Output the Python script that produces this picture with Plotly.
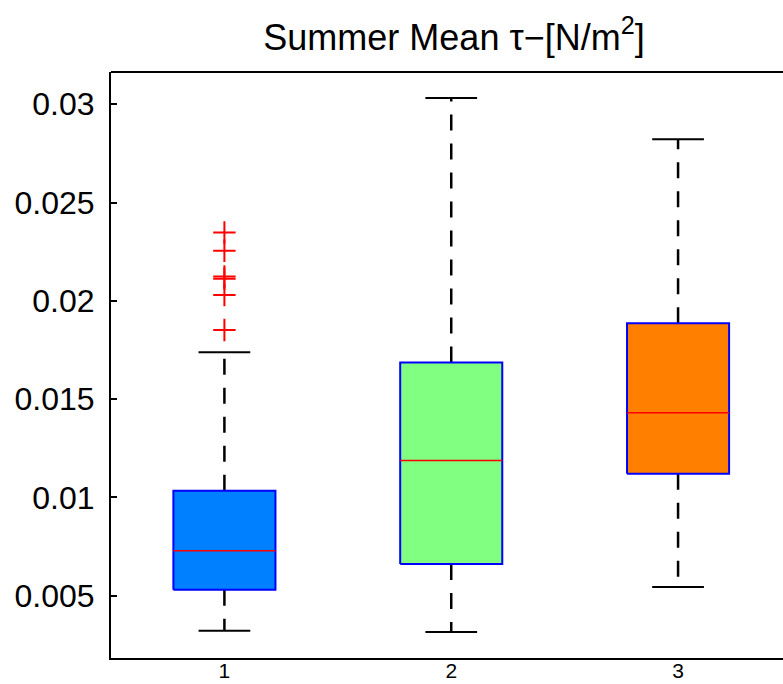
import plotly.graph_objects as go

# ---- data ----
groups = [1, 2, 3]
tick_labels = ["1", "2", "3"]
q1 = [0.00531, 0.00661, 0.01120]
median = [0.00729, 0.01188, 0.01431]
q3 = [0.01034, 0.01686, 0.01886]
lower_whisker = [0.00322, 0.00316, 0.00544]
upper_whisker = [0.01738, 0.03032, 0.02822]
outlier_x = [1, 1, 1, 1, 1, 1]
outlier_y = [0.02348, 0.02255, 0.02124, 0.02113, 0.02030, 0.01852]
fill_colors = ["#0080FF", "#80FF80", "#FF8000"]
ytick_vals = [0.005, 0.01, 0.015, 0.02, 0.025, 0.03]
ytick_text = ["0.005", "0.01", "0.015", "0.02", "0.025", "0.03"]

BOX_W = 0.45
CAP_W = 0.228
W, H = 783, 684
L, T, B = 111, 72, 26
PX_PER_UNIT = 227.5

fig = go.Figure()

for i, g in enumerate(groups):
    # whiskers (dashed)
    fig.add_trace(go.Scatter(
        x=[g, g, None, g, g],
        y=[q3[i], upper_whisker[i], None, q1[i], lower_whisker[i]],
        mode="lines", line=dict(color="black", width=2.5, dash="16px,13px"),
        hoverinfo="skip", showlegend=False))
    # caps
    fig.add_trace(go.Scatter(
        x=[g - CAP_W / 2, g + CAP_W / 2, None, g - CAP_W / 2, g + CAP_W / 2],
        y=[upper_whisker[i], upper_whisker[i], None, lower_whisker[i], lower_whisker[i]],
        mode="lines", line=dict(color="black", width=2),
        hoverinfo="skip", showlegend=False))
    # box
    fig.add_trace(go.Scatter(
        x=[g - BOX_W / 2, g + BOX_W / 2, g + BOX_W / 2, g - BOX_W / 2, g - BOX_W / 2],
        y=[q1[i], q1[i], q3[i], q3[i], q1[i]],
        mode="lines", fill="toself", fillcolor=fill_colors[i],
        line=dict(color="#0000FF", width=2),
        hoverinfo="skip", showlegend=False))
    # median
    fig.add_trace(go.Scatter(
        x=[g - BOX_W / 2, g + BOX_W / 2],
        y=[median[i], median[i]],
        mode="lines", line=dict(color="#FF0000", width=1.5),
        hoverinfo="skip", showlegend=False))

# outliers
fig.add_trace(go.Scatter(
    x=outlier_x, y=outlier_y, mode="markers",
    marker=dict(symbol="cross-thin", size=16, line=dict(color="#FF0000", width=2)),
    hoverinfo="skip", showlegend=False))

x_right = 0.5 + (W + 2 - L) / PX_PER_UNIT

# top border of the axes box (the right border lies outside the picture)
fig.add_shape(type="line", xref="paper", yref="paper", x0=0, x1=1.01, y0=1, y1=1,
              line=dict(color="black", width=2))

fig.update_layout(
    width=W, height=H,
    margin=dict(l=L, r=0, t=T, b=B, pad=0, autoexpand=False),
    paper_bgcolor="white", plot_bgcolor="white",
    font=dict(family="Liberation Sans, Arial, sans-serif", color="black"),
    title=dict(
        text="Summer Mean τ−[N/m<sup>2</sup>]",
        font=dict(size=36, family="Liberation Sans, Arial, sans-serif", color="black"),
        xref="container", x=454 / W, xanchor="center",
        yref="container", y=1 - 37 / H, yanchor="middle"),
    xaxis=dict(
        range=[0.5, x_right], tickvals=groups, ticktext=tick_labels,
        ticks="", showline=True, linecolor="black", linewidth=2, mirror=False,
        showgrid=False, zeroline=False, tickfont=dict(size=21),
        ticklabelstandoff=-7, automargin=False),
    yaxis=dict(
        range=[0.001834, 0.031641], tickvals=ytick_vals, ticktext=ytick_text,
        ticks="inside", ticklen=6, tickwidth=1.5, tickcolor="black",
        showline=True, linecolor="black", linewidth=2, mirror=False,
        showgrid=False, zeroline=False, tickfont=dict(size=32),
        ticklabelstandoff=8, automargin=False),
)

fig.write_html("out.html")
